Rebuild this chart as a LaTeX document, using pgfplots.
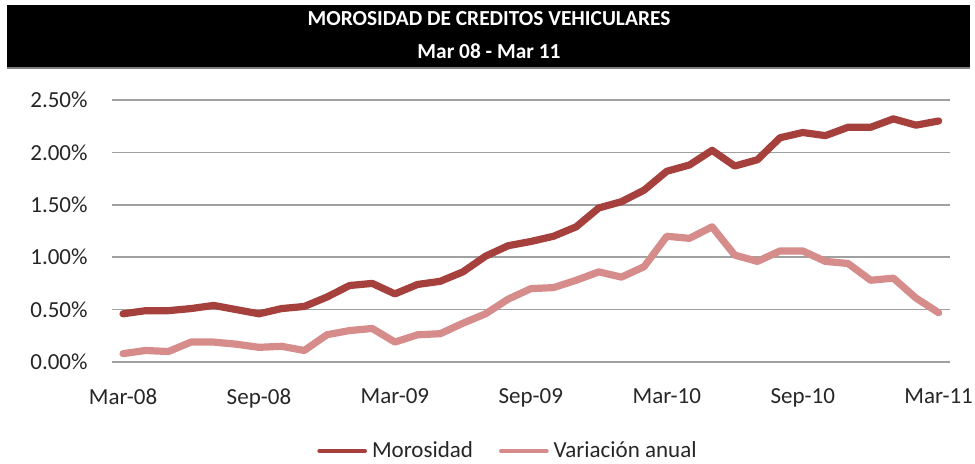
\documentclass[border=0pt]{standalone}
\usepackage{fontspec}
\setmainfont{Carlito}
\usepackage{pgfplots}
\usepackage{pgfplotstable}
\pgfplotsset{compat=1.18}
\definecolor{darkred}{RGB}{166,64,60}
\definecolor{lightred}{RGB}{214,140,138}
\definecolor{gridgray}{RGB}{160,160,160}
\definecolor{txt}{RGB}{38,38,38}
\pgfplotstableread{
i mor var
0 0.46 0.08
1 0.49 0.11
2 0.49 0.10
3 0.51 0.19
4 0.54 0.19
5 0.50 0.17
6 0.46 0.14
7 0.51 0.15
8 0.53 0.11
9 0.62 0.26
10 0.73 0.30
11 0.75 0.32
12 0.65 0.19
13 0.74 0.26
14 0.77 0.27
15 0.86 0.37
16 1.01 0.46
17 1.11 0.60
18 1.15 0.70
19 1.20 0.71
20 1.29 0.78
21 1.47 0.86
22 1.53 0.81
23 1.64 0.91
24 1.82 1.20
25 1.88 1.18
26 2.02 1.29
27 1.87 1.02
28 1.93 0.96
29 2.14 1.06
30 2.19 1.06
31 2.16 0.96
32 2.24 0.94
33 2.24 0.78
34 2.32 0.80
35 2.26 0.61
36 2.30 0.47
}\datatable
\begin{document}
\begin{tikzpicture}
\useasboundingbox (0,0) rectangle (487.5pt,231.5pt);
\fill[black] (3.5pt,198pt) rectangle (485pt,229pt);
\draw[gray, line width=1pt] (3.5pt,197.5pt) -- (485pt,197.5pt);
\node[text=white, font=\fontsize{10.7}{12}\selectfont\bfseries] at (244.5pt,222pt) {MOROSIDAD DE CREDITOS VEHICULARES};
\node[text=white, font=\fontsize{10.7}{12}\selectfont\bfseries] at (244.5pt,206pt) {Mar 08 - Mar 11};
\begin{axis}[
  at={(55.85pt,50.5pt)}, anchor=south west,
  scale only axis, width=419.15pt, height=131pt,
  xmin=-0.5, xmax=36.5, ymin=0, ymax=2.5,
  clip=false,
  axis line style={draw=none},
  tick style={draw=none},
  ymajorgrids, grid style={gridgray, line width=0.8pt},
  ytick={0,0.5,1,1.5,2,2.5},
  yticklabels={0.00\%,0.50\%,1.00\%,1.50\%,2.00\%,2.50\%},
  xtick={0,6,12,18,24,30,36},
  xticklabels={Mar-08,Sep-08,Mar-09,Sep-09,Mar-10,Sep-10,Mar-11},
  ticklabel style={font=\fontsize{11.5}{13}\selectfont, text=txt, inner sep=0pt},
  yticklabel style={anchor=east, xshift=-11.85pt},
  xticklabel style={anchor=north, yshift=-13.3pt},
  legend columns=2,
  legend style={draw=none, fill=none, inner sep=0pt, at={(0.2449,-0.3397)}, anchor=west,
    font=\fontsize{11.5}{13}\selectfont, text=txt,
    nodes={inner sep=0pt},
    /tikz/every odd column/.append style={column sep=2.5pt},
    /tikz/every even column/.append style={column sep=13pt}},
  legend image code/.code={\draw[#1, line width=1.8pt] (0pt,0pt) -- (23pt,0pt);},
]
\addplot[darkred, line width=3.6pt, line join=round, line cap=round] table[x=i, y=mor] {\datatable};
\addlegendentry{Morosidad}
\addplot[lightred, line width=3.6pt, line join=round, line cap=round] table[x=i, y=var] {\datatable};
\addlegendentry{Variación anual}
\end{axis}
\end{tikzpicture}
\end{document}
